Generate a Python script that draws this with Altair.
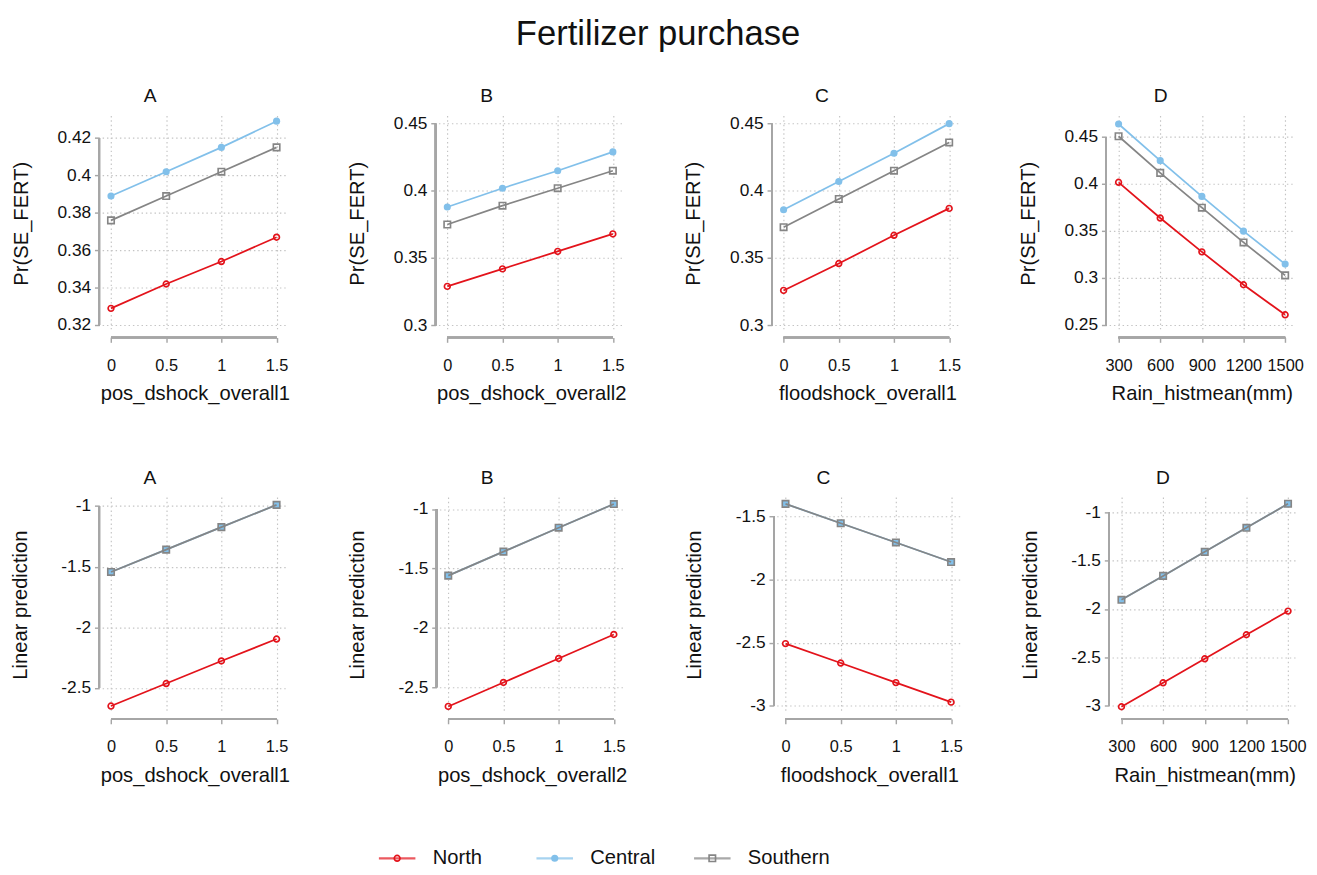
import altair as alt
import pandas as pd

FONT = "Liberation Sans"
AX = "#a6a6a6"
GRID = "#c4c4c4"
TXT = "#111111"

regions = ["North", "Central", "Southern"]
colors = {"North": "#e3131b", "Central": "#82c0ea", "Southern": "#858585"}

x_shock = [0, 0.5, 1, 1.5]
x_rain = [300, 600, 900, 1200, 1500]

# Top row: Pr(SE_FERT)
topA_north = [0.329, 0.342, 0.354, 0.367]
topA_central = [0.389, 0.402, 0.415, 0.429]
topA_southern = [0.376, 0.389, 0.402, 0.415]

topB_north = [0.329, 0.342, 0.355, 0.368]
topB_central = [0.388, 0.402, 0.415, 0.429]
topB_southern = [0.375, 0.389, 0.402, 0.415]

topC_north = [0.326, 0.346, 0.367, 0.387]
topC_central = [0.386, 0.407, 0.428, 0.450]
topC_southern = [0.373, 0.394, 0.415, 0.436]

topD_north = [0.402, 0.364, 0.328, 0.293, 0.261]
topD_central = [0.464, 0.425, 0.387, 0.350, 0.315]
topD_southern = [0.451, 0.412, 0.375, 0.338, 0.303]

# Bottom row: Linear prediction (Central coincides with Southern)
botA_north = [-2.649, -2.463, -2.277, -2.096]
botA_central = [-1.543, -1.359, -1.173, -0.990]
botA_southern = [-1.543, -1.359, -1.173, -0.990]

botB_north = [-2.661, -2.459, -2.257, -2.055]
botB_central = [-1.560, -1.358, -1.156, -0.957]
botB_southern = [-1.560, -1.358, -1.156, -0.957]

botC_north = [-2.506, -2.660, -2.815, -2.970]
botC_central = [-1.399, -1.553, -1.705, -1.860]
botC_southern = [-1.399, -1.553, -1.705, -1.860]

botD_north = [-3.013, -2.765, -2.516, -2.267, -2.022]
botD_central = [-1.905, -1.657, -1.408, -1.159, -0.910]
botD_southern = [-1.905, -1.657, -1.408, -1.159, -0.910]

ticks_A_top = [0.32, 0.34, 0.36, 0.38, 0.4, 0.42]
ticks_BC_top = [0.3, 0.35, 0.4, 0.45]
ticks_D_top = [0.25, 0.3, 0.35, 0.4, 0.45]
ticks_AB_bot = [-2.5, -2, -1.5, -1]
ticks_C_bot = [-3, -2.5, -2, -1.5]
ticks_D_bot = [-3, -2.5, -2, -1.5, -1]

W, H = 193, 224
YOFF, XOFF = 3, 7
LABEL_EXPR = "'' + datum.value"


def panel(label, xs, north, central, southern, xtitle, ytitle, xdomain, ydomain, yticks, ytp):
    rows = []
    for reg, vals in (("North", north), ("Central", central), ("Southern", southern)):
        for xv, yv in zip(xs, vals):
            rows.append({"region": reg, "x": xv, "y": yv})
    df = pd.DataFrame(rows)

    xscale = alt.Scale(domain=xdomain, nice=False, zero=False)
    yscale = alt.Scale(domain=ydomain, nice=False, zero=False)
    xaxis = alt.Axis(values=xs, title=xtitle, labelExpr=LABEL_EXPR, offset=XOFF,
                     labelPadding=16, titlePadding=11, labelOverlap=False)
    yaxis = alt.Axis(values=yticks, title=ytitle, labelExpr=LABEL_EXPR, offset=YOFF,
                     labelPadding=4, titlePadding=ytp, labelOverlap=False, labelFontSize=18)
    x = alt.X("x:Q", scale=xscale, axis=xaxis)
    y = alt.Y("y:Q", scale=yscale, axis=yaxis)

    base = alt.Chart(df)
    layers = []
    for reg in ["Central", "Southern", "North"]:
        sub = base.transform_filter(alt.datum.region == reg)
        layers.append(sub.mark_line(color=colors[reg], strokeWidth=1.8).encode(x=x, y=y))
        if reg == "North":
            pts = sub.mark_point(shape="circle", filled=False, size=36, strokeWidth=1.7,
                                 color=colors[reg], opacity=1)
        elif reg == "Central":
            pts = sub.mark_circle(size=55, color=colors[reg], opacity=1)
        else:
            pts = sub.mark_point(shape="square", filled=False, size=45, strokeWidth=1.7,
                                 color=colors[reg], opacity=1)
        layers.append(pts.encode(x=x, y=y))

    # axis lines spanning the tick range only
    layers.append(base.mark_rule(color=AX, strokeWidth=1.6).encode(
        x=alt.value(-YOFF),
        y=alt.Y(datum=yticks[0], type="quantitative", scale=yscale, axis=yaxis),
        y2=alt.datum(yticks[-1])))
    layers.append(base.mark_rule(color=AX, strokeWidth=1.6).encode(
        y=alt.value(H + XOFF),
        x=alt.X(datum=xs[0], type="quantitative", scale=xscale, axis=xaxis),
        x2=alt.datum(xs[-1])))

    return alt.layer(*layers).properties(
        width=W, height=H,
        title=alt.TitleParams(label, fontSize=20, fontWeight="normal", anchor="middle",
                              frame="bounds", font=FONT, color=TXT, offset=10))


dom_shock = [-0.08, 1.6]
dom_rain = [232, 1568]
ylab_top = "Pr(SE_FERT)"
ylab_bot = "Linear prediction"

top = alt.hconcat(
    panel("A", x_shock, topA_north, topA_central, topA_southern, "pos_dshock_overall1", ylab_top,
          dom_shock, [0.317, 0.432], ticks_A_top, 27),
    panel("B", x_shock, topB_north, topB_central, topB_southern, "pos_dshock_overall2", ylab_top,
          dom_shock, [0.296, 0.456], ticks_BC_top, 27),
    panel("C", x_shock, topC_north, topC_central, topC_southern, "floodshock_overall1", ylab_top,
          dom_shock, [0.296, 0.456], ticks_BC_top, 27),
    panel("D", x_rain, topD_north, topD_central, topD_southern, "Rain_histmean(mm)", ylab_top,
          dom_rain, [0.244, 0.473], ticks_D_top, 27),
    spacing=58,
)
bottom = alt.hconcat(
    panel("A", x_shock, botA_north, botA_central, botA_southern, "pos_dshock_overall1", ylab_bot,
          dom_shock, [-2.70, -0.925], ticks_AB_bot, 32),
    panel("B", x_shock, botB_north, botB_central, botB_southern, "pos_dshock_overall2", ylab_bot,
          dom_shock, [-2.71, -0.898], ticks_AB_bot, 32),
    panel("C", x_shock, botC_north, botC_central, botC_southern, "floodshock_overall1", ylab_bot,
          dom_shock, [-3.05, -1.345], ticks_C_bot, 32),
    panel("D", x_rain, botD_north, botD_central, botD_southern, "Rain_histmean(mm)", ylab_bot,
          dom_rain, [-3.07, -0.84], ticks_D_bot, 32),
    spacing=58,
)

# Legend row
leg_df = pd.DataFrame({"region": regions})
lx = alt.X("region:N", scale=alt.Scale(type="point", domain=regions, range=[307, 635], padding=0),
           axis=None)
lc = alt.Color("region:N", scale=alt.Scale(domain=regions, range=[colors[r] for r in regions]),
               legend=None)
leg_base = alt.Chart(leg_df)
leg_layers = [
    leg_base.mark_tick(orient="horizontal", size=38, thickness=2.4).encode(x=lx, color=lc),
    leg_base.transform_filter(alt.datum.region == "North").mark_point(
        shape="circle", filled=False, size=36, strokeWidth=1.7, opacity=1).encode(x=lx, color=lc),
    leg_base.transform_filter(alt.datum.region == "Central").mark_circle(
        size=55, opacity=1).encode(x=lx, color=lc),
    leg_base.transform_filter(alt.datum.region == "Southern").mark_point(
        shape="square", filled=False, size=45, strokeWidth=1.7, opacity=1).encode(x=lx, color=lc),
    leg_base.mark_text(align="left", baseline="middle", dx=37, fontSize=21, font=FONT,
                       color=TXT).encode(x=lx, text="region:N"),
]
legend = alt.layer(*leg_layers).properties(width=1000, height=24)

panels = alt.vconcat(top, bottom, spacing=67)
chart = alt.vconcat(panels, legend, spacing=64).properties(
    title=alt.TitleParams("Fertilizer purchase", fontSize=36, fontWeight="normal", anchor="middle",
                          font=FONT, color=TXT, offset=35),
    padding={"left": 1, "right": 2, "top": -9, "bottom": 2},
    background="white",
).configure_view(stroke=None).configure_axis(
    domain=False, ticks=True, tickColor=AX, tickSize=5, tickWidth=1.5,
    grid=True, gridColor=GRID, gridDash=[1.5, 3], gridWidth=1.2,
    labelFont=FONT, labelFontSize=17, labelColor=TXT,
    titleFont=FONT, titleFontSize=21, titleFontWeight="normal", titleColor=TXT,
).configure_axisX(offset=XOFF).configure_axisY(labelAngle=0, offset=YOFF)

chart.save("out.html", embed_options={"renderer": "svg", "actions": False})
